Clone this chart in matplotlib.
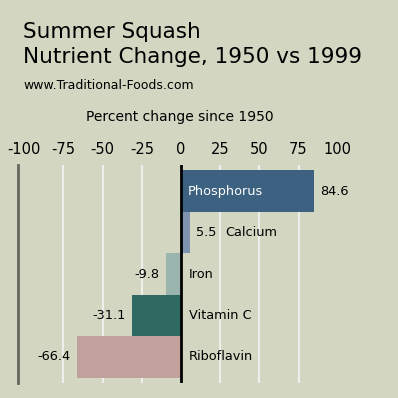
import matplotlib.pyplot as plt

# data
nutrients = ["Phosphorus", "Calcium", "Iron", "Vitamin C", "Riboflavin"]
changes = [84.6, 5.5, -9.8, -31.1, -66.4]
bar_colors = ["#3d6180", "#8093ae", "#99b5ae", "#2e6a61", "#c0a19b"]
ticks = [-100, -75, -50, -25, 0, 25, 50, 75, 100]

bg = "#d3d7c2"
plt.rcParams['font.family'] = ['DejaVu Sans']

fig = plt.figure(figsize=(3.98, 3.98), dpi=100, facecolor=bg)
ax = fig.add_axes([18 / 398, 15 / 398, 326 / 398, 218 / 398], facecolor=bg)

ax.set_xlim(-104, 104)
ax.set_ylim(4.63, -0.63)

# grid lines
for t in ticks:
    if t in (-100, 0, 100):
        continue
    ax.axvline(t, color="#eeeeea", lw=1.5, zorder=0)

ypos = list(range(len(nutrients)))
ax.barh(ypos, changes, height=1.0, color=bar_colors, edgecolor="none", zorder=2)
ax.axvline(0, color="black", lw=2, zorder=3)

# labels
fs = 9.3
for y, name, v in zip(ypos, nutrients, changes):
    if v > 50:
        ax.text(4.5, y, name, color="white", va="center", ha="left", fontsize=fs, zorder=4)
        ax.text(v + 4, y, f"{v}", va="center", ha="left", fontsize=fs)
    elif v > 0:
        ax.text(v + 4, y, f"{v}", va="center", ha="left", fontsize=fs)
        ax.text(v + 23, y, name, va="center", ha="left", fontsize=fs)
    else:
        ax.text(v - 4, y, f"{v}", va="center", ha="right", fontsize=fs)
        ax.text(5, y, name, va="center", ha="left", fontsize=fs)

ax.set_xticks(ticks)
ax.set_xticklabels([str(t) for t in ticks], fontsize=10.5)
ax.xaxis.tick_top()
ax.tick_params(axis="x", length=0, pad=6)
ax.set_yticks([])
for s in ["top", "right", "bottom"]:
    ax.spines[s].set_visible(False)
ax.spines["left"].set_color("#66665c")
ax.spines["left"].set_linewidth(2)

fig.text(23 / 398, 1 - 38 / 398, "Summer Squash", fontsize=15.5, ha="left", va="baseline")
fig.text(23 / 398, 1 - 63 / 398, "Nutrient Change, 1950 vs 1999", fontsize=15.5, ha="left", va="baseline")
fig.text(23 / 398, 1 - 89 / 398, "www.Traditional-Foods.com", fontsize=9, ha="left", va="baseline")
fig.text(180 / 398, 1 - 121 / 398, "Percent change since 1950", fontsize=10, ha="center", va="baseline")

fig.savefig("out.png", dpi=100, facecolor=bg)
